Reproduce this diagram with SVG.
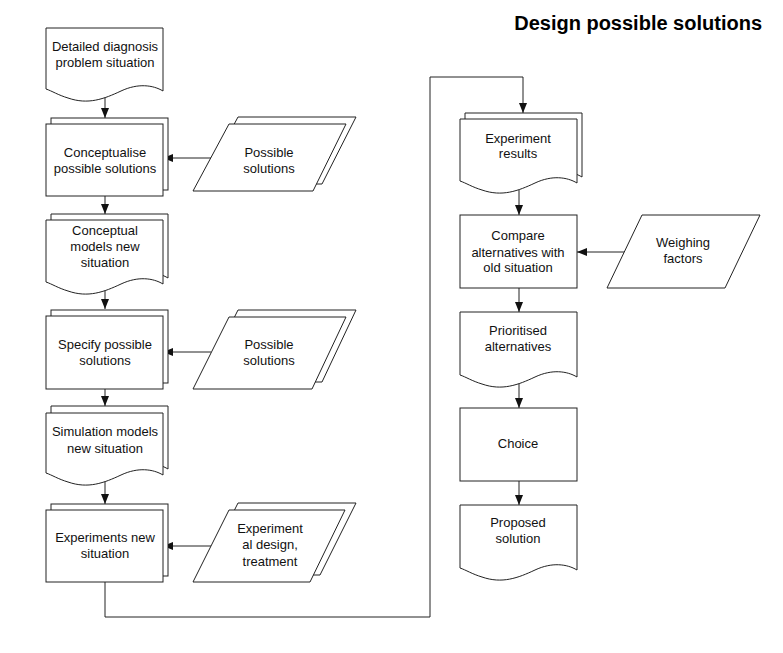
<svg xmlns="http://www.w3.org/2000/svg" width="783" height="653" viewBox="0 0 783 653">
<style>
.s{fill:#fff;stroke:#222;stroke-width:1}
.c{fill:none;stroke:#222;stroke-width:1}
text{font-family:"Liberation Sans",Arial,sans-serif;font-size:13px;fill:#111;text-anchor:middle}
.t{font-size:20px;font-weight:bold;text-anchor:end;fill:#000}
</style>
<defs>
<marker id="a" markerUnits="userSpaceOnUse" markerWidth="10" markerHeight="10" viewBox="0 0 10 10" refX="10" refY="5" orient="auto">
<path d="M0,1 L10,5 L0,9 Z" fill="#111"/>
</marker>
</defs>
<rect width="783" height="653" fill="#fff"/>
<text class="t" x="762" y="30">Design possible solutions</text>

<g id="connectors">
<path class="c" d="M105,97 V118" marker-end="url(#a)"/>
<path class="c" d="M105,196 V214" marker-end="url(#a)"/>
<path class="c" d="M105,290 V309" marker-end="url(#a)"/>
<path class="c" d="M105,389 V406" marker-end="url(#a)"/>
<path class="c" d="M105,481 V504" marker-end="url(#a)"/>
<path class="c" d="M105,582 V617 H430 V77 H523 V113" marker-end="url(#a)"/>
<path class="c" d="M519,190 V215" marker-end="url(#a)"/>
<path class="c" d="M519,288 V312" marker-end="url(#a)"/>
<path class="c" d="M519,383 V408" marker-end="url(#a)"/>
<path class="c" d="M519,481 V505" marker-end="url(#a)"/>
<path class="c" d="M211,158 H163" marker-end="url(#a)"/>
<path class="c" d="M211,352 H163" marker-end="url(#a)"/>
<path class="c" d="M211,546 H163" marker-end="url(#a)"/>
<path class="c" d="M624,252 H577" marker-end="url(#a)"/>
</g>

<g id="n1">
<path class="s" d="M46,28 H163 V91 C153,85 138,83 121,91 C104,99 88,105 68,98 C58,95 52,91 46,89 Z"/>
<text x="105" y="51">Detailed diagnosis</text>
<text x="105" y="67">problem situation</text>
</g>

<g id="n2">
<rect class="s" x="51" y="118" width="117" height="72"/>
<rect class="s" x="46" y="124" width="117" height="72"/>
<text x="105" y="157">Conceptualise</text>
<text x="105" y="173">possible solutions</text>
</g>

<g id="n3">
<path class="s" d="M51,214 H168 V278 C158,272 143,270 126,278 C109,286 93,292 73,285 C63,282 57,278 51,276 Z"/>
<path class="s" d="M46,220 H163 V284 C153,278 138,276 121,284 C104,292 88,298 68,291 C58,288 52,284 46,282 Z"/>
<text x="105" y="235">Conceptual</text>
<text x="105" y="251">models new</text>
<text x="105" y="267">situation</text>
</g>

<g id="n4">
<rect class="s" x="51" y="310" width="117" height="73"/>
<rect class="s" x="46" y="316" width="117" height="73"/>
<text x="105" y="349">Specify possible</text>
<text x="105" y="365">solutions</text>
</g>

<g id="n5">
<path class="s" d="M51,406 H168 V469 C158,463 143,461 126,469 C109,477 93,483 73,476 C63,473 57,469 51,467 Z"/>
<path class="s" d="M46,413 H163 V475 C153,469 138,467 121,475 C104,483 88,489 68,482 C58,479 52,475 46,473 Z"/>
<text x="105" y="436">Simulation models</text>
<text x="105" y="453">new situation</text>
</g>

<g id="n6">
<rect class="s" x="51" y="504" width="117" height="72"/>
<rect class="s" x="46" y="510" width="117" height="72"/>
<text x="105" y="542">Experiments new</text>
<text x="105" y="558">situation</text>
</g>

<g id="p1">
<path class="s" d="M238,117 H356 L322,184 H202 Z"/>
<path class="s" d="M229,124 H346 L313,191 H193 Z"/>
<text x="269" y="157">Possible</text>
<text x="269" y="173">solutions</text>
</g>

<g id="p2">
<path class="s" d="M238,310 H356 L322,382 H202 Z"/>
<path class="s" d="M229,317 H346 L312,389 H193 Z"/>
<text x="269" y="349">Possible</text>
<text x="269" y="365">solutions</text>
</g>

<g id="p3">
<path class="s" d="M238,503 H356 L320,575 H202 Z"/>
<path class="s" d="M229,510 H345 L310,582 H193 Z"/>
<text x="270" y="533">Experiment</text>
<text x="270" y="549">al design,</text>
<text x="270" y="566">treatment</text>
</g>

<g id="n7">
<path class="s" d="M465,113 H582 V177 C572,171 557,169 540,177 C523,185 507,191 487,184 C477,181 471,177 465,175 Z"/>
<path class="s" d="M460,119 H577 V183 C567,177 552,175 535,183 C518,191 502,197 482,190 C472,187 466,183 460,181 Z"/>
<text x="518" y="143">Experiment</text>
<text x="518" y="158">results</text>
</g>

<g id="n8">
<rect class="s" x="460" y="215" width="117" height="73"/>
<text x="518" y="240">Compare</text>
<text x="518" y="257">alternatives with</text>
<text x="518" y="272">old situation</text>
</g>

<g id="p4">
<path class="s" d="M642,215 H760 L725,288 H607 Z"/>
<text x="683" y="247">Weighing</text>
<text x="683" y="263">factors</text>
</g>

<g id="n9">
<path class="s" d="M460,312 H577 V377 C567,371 552,369 535,377 C518,385 502,391 482,384 C472,381 466,377 460,375 Z"/>
<text x="518" y="335">Prioritised</text>
<text x="518" y="351">alternatives</text>
</g>

<g id="n10">
<rect class="s" x="460" y="408" width="117" height="73"/>
<text x="518" y="448">Choice</text>
</g>

<g id="n11">
<path class="s" d="M460,505 H577 V570 C567,564 552,562 535,570 C518,578 502,584 482,577 C472,574 466,570 460,568 Z"/>
<text x="518" y="527">Proposed</text>
<text x="518" y="543">solution</text>
</g>
</svg>
